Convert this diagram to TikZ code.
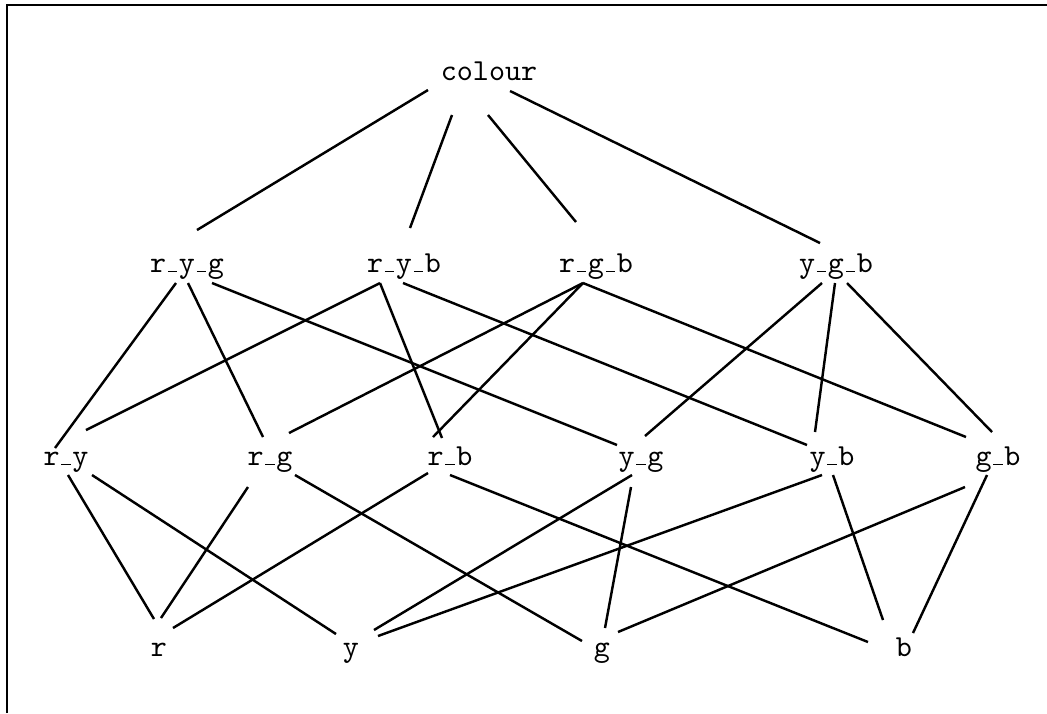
\documentclass[tikz,border=0pt]{standalone}
\usepackage{tikz}
\usetikzlibrary{positioning}
\newcommand{\us}{\kern.06em\vbox{\hrule width.3em}\kern.06em}
\tikzset{
  set/.style={font=\ttfamily, inner sep=3pt, anchor=base},
  link/.style={line width=0.8pt},
}

\begin{document}
\begin{tikzpicture}[x=0.0115cm,y=-0.0115cm]
  \useasboundingbox (0,0) rectangle (1047,713);
  \draw[link] (7,713) -- (7,5) -- (1047,5);
  % top
  \node[set] (colour) at (489,80) {colour};
  % three colours
  \node[set] (ryg) at (187,272) {r\us y\us g};
  \node[set] (ryb) at (404,272) {r\us y\us b};
  \node[set] (rgb) at (596,272) {r\us g\us b};
  \node[set] (ygb) at (836,272) {y\us g\us b};
  % two colours
  \node[set] (ry) at (66,465) {r\us y};
  \node[set] (rg) at (270,465) {r\us g};
  \node[set] (rb) at (450,465) {r\us b};
  \node[set] (yg) at (641,465) {y\us g};
  \node[set] (yb) at (832,465) {y\us b};
  \node[set] (gb) at (998,465) {g\us b};
  % one colour
  \node[set] (r) at (159,656) {r};
  \node[set] (y) at (351,656) {y};
  \node[set] (g) at (602,656) {g};
  \node[set] (b) at (904,656) {b};
  % lines, ends given as offsets from the base of each label
  \foreach \a/\ax/\ay/\b/\bx/\by in {
      colour/-61/10/ryg/10/-42, colour/-37/35/ryb/6/-44,
      colour/-1/35/rgb/-20/-50, colour/21/11/ygb/-16/-29,
      ryg/-11/11/ry/-11/-17, ryg/1/11/rg/-7/-28, ryg/25/11/yg/-24/-20,
      ryb/-24/11/ry/20/-35, ryb/-24/11/rb/-8/-27, ryb/-1/11/yb/-25/-20,
      rgb/-13/11/rg/19/-32, rgb/-13/11/rb/-17/-28, rgb/-13/11/gb/-32/-28,
      ygb/-14/11/yg/4/-29, ygb/-1/11/yb/-17/-33, ygb/11/11/gb/-6/-33,
      ry/2/10/r/-5/-37, ry/26/10/y/-15/-22,
      rg/-22/22/r/2/-38, rg/25/10/g/-20/-15,
      rb/-22/8/r/14/-28, rb/0/10/b/-36/-14,
      yg/-9/10/y/23/-26, yg/-10/22/g/3/-28,
      yb/-10/10/y/27/-20, yb/1/10/b/-21/-36,
      gb/-33/22/g/16/-24, gb/-11/10/b/9/-23}
    \draw[link] ([shift={(\ax,\ay)}]\a.base) -- ([shift={(\bx,\by)}]\b.base);
\end{tikzpicture}
\end{document}
